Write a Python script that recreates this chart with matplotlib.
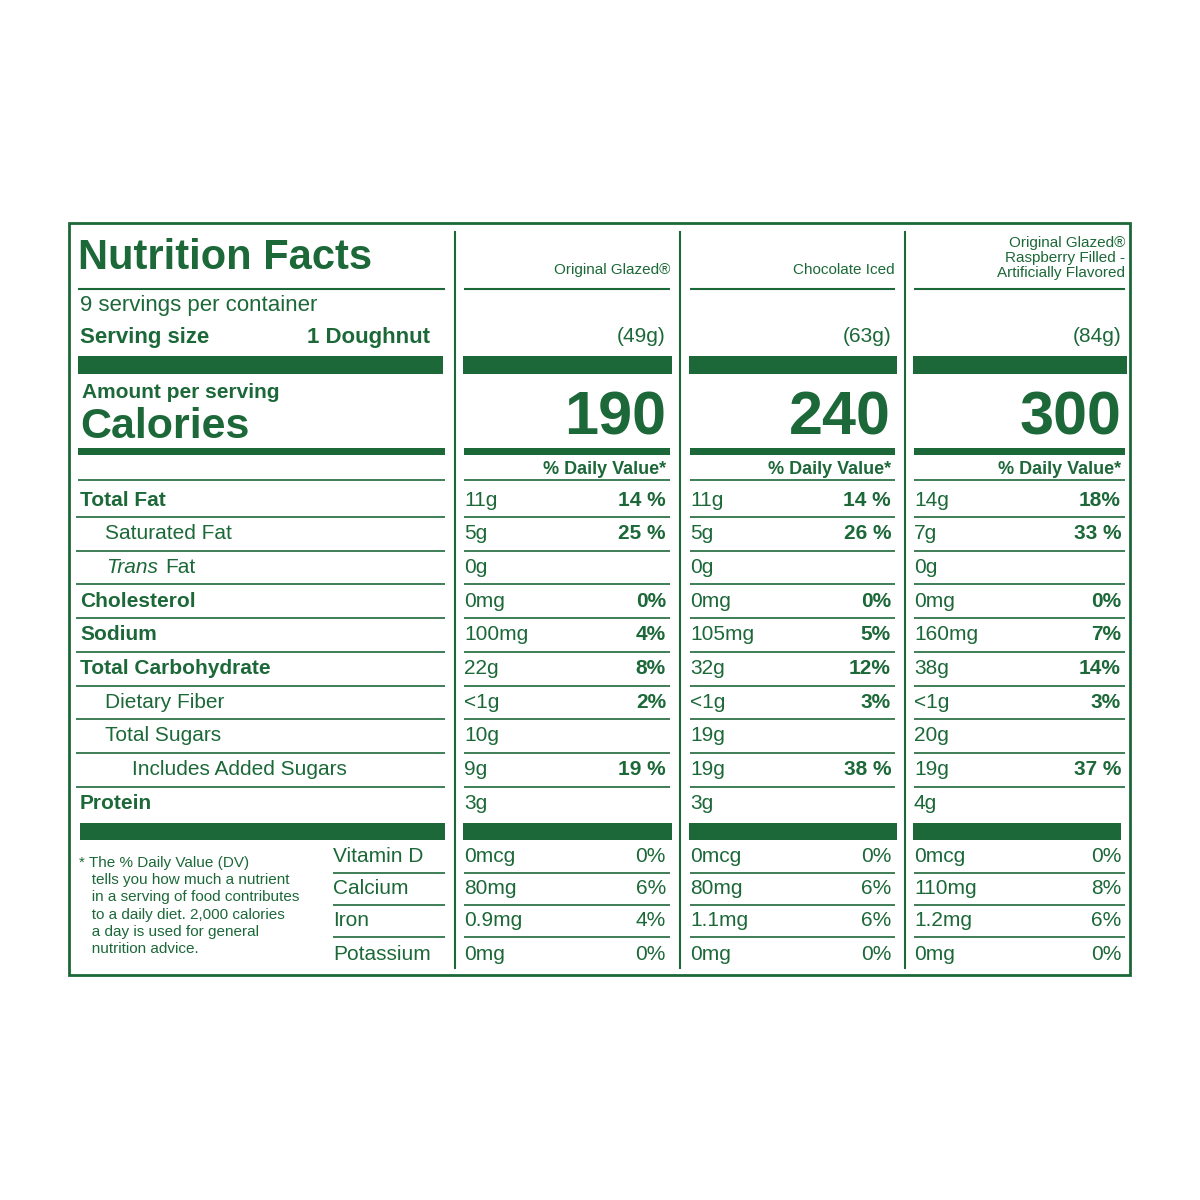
import matplotlib
matplotlib.use("Agg")
import matplotlib.pyplot as plt
from matplotlib.patches import Rectangle

G = "#1c6838"
products = ["Original Glazed\u00ae", "Chocolate Iced", "Original Glazed\u00ae\nRaspberry Filled -\nArtificially Flavored"]
weights = ["(49g)", "(63g)", "(84g)"]
calories = ["190", "240", "300"]
nutrients = ["Total Fat", "Saturated Fat", "Trans Fat", "Cholesterol", "Sodium", "Total Carbohydrate",
             "Dietary Fiber", "Total Sugars", "Includes Added Sugars", "Protein"]
indent = [0, 1, 1, 0, 0, 0, 1, 1, 2, 0]
amounts = [["11g", "5g", "0g", "0mg", "100mg", "22g", "<1g", "10g", "9g", "3g"],
           ["11g", "5g", "0g", "0mg", "105mg", "32g", "<1g", "19g", "19g", "3g"],
           ["14g", "7g", "0g", "0mg", "160mg", "38g", "<1g", "20g", "19g", "4g"]]
dvs = [["14 %", "25 %", "", "0%", "4%", "8%", "2%", "", "19 %", ""],
       ["14 %", "26 %", "", "0%", "5%", "12%", "3%", "", "38 %", ""],
       ["18%", "33 %", "", "0%", "7%", "14%", "3%", "", "37 %", ""]]
vitamins = ["Vitamin D", "Calcium", "Iron", "Potassium"]
vit_amt = [["0mcg", "80mg", "0.9mg", "0mg"], ["0mcg", "80mg", "1.1mg", "0mg"], ["0mcg", "110mg", "1.2mg", "0mg"]]
vit_dv = [["0%", "6%", "4%", "0%"], ["0%", "6%", "6%", "0%"], ["0%", "8%", "6%", "0%"]]
servings = "9 servings per container"
footnote = ("* The % Daily Value (DV)\n   tells you how much a nutrient\n   in a serving of food contributes\n"
            "   to a daily diet. 2,000 calories\n   a day is used for general\n   nutrition advice.")

fig = plt.figure(figsize=(12, 12), dpi=100)
ax = fig.add_axes([0, 0, 1, 1])
ax.set_xlim(0, 1200); ax.set_ylim(1200, 0); ax.axis("off")
L = ["Liberation Sans", "DejaVu Sans"]

def t(x, y, s, size, ha="left", va="center", weight="normal", fam=L, style="normal", ls=1.0):
    ax.text(x, y, s, fontsize=size, ha=ha, va=va, color=G, fontweight=weight, family=fam,
            fontstyle=style, linespacing=ls)

def hl(x0, x1, y, lw=1.2):
    ax.plot([x0, x1], [y, y], color=G, lw=lw, solid_capstyle="butt")

def bar(x0, x1, y0, y1):
    ax.add_patch(Rectangle((x0, y0), x1 - x0, y1 - y0, color=G, lw=0))

ax.add_patch(Rectangle((69, 223), 1061, 752, fill=False, ec=G, lw=2))
for x in [455, 680, 905]:
    ax.plot([x, x], [232, 968], color=G, lw=1.5)

# left panel
t(78, 258, "Nutrition Facts", 30, weight="bold")
hl(78, 445, 289, 1.5)
t(80, 306, servings, 16)
t(80, 337, "Serving size", 16, weight="bold")
t(430, 337, "1 Doughnut", 16, ha="right", weight="bold")
bar(78, 443, 356, 374)
t(82, 393, "Amount per serving", 15, weight="bold")
t(80, 427, "Calories", 31, weight="bold")
bar(78, 445, 448, 455)
hl(78, 445, 480)

cols = [(464, 670), (690, 895), (914, 1125)]
for i, (x0, x1) in enumerate(cols):
    if i < 2:
        t(x1, 270, products[i], 11, ha="right")
    else:
        t(x1, 258, products[i], 11, ha="right", ls=1.05)
    hl(x0, x1, 289, 1.5)
    t(x1 - 4, 337, weights[i], 15, ha="right")
    bar(x0 - 1, x1 + 2, 356, 374)
    t(x1 - 4, 419, calories[i], 44, ha="right", weight="bold")
    bar(x0, x1, 448, 455)
    t(x1 - 4, 469, "% Daily Value*", 13, ha="right", weight="bold")
    hl(x0, x1, 480)

row_y = [500 + 33.7 * k for k in range(len(nutrients))]
for k, name in enumerate(nutrients):
    y = row_y[k]
    if name == "Trans Fat":
        ax.text(106, y, "Trans", fontsize=15, color=G, family=L, fontstyle="italic", va="center")
        ax.text(165, y, "Fat", fontsize=15, color=G, family=L, va="center")
    else:
        t(80 + 25 * indent[k] + (2 if indent[k] == 2 else 0), y, name, 15,
          weight="bold" if indent[k] == 0 else "normal")
    if k < len(nutrients) - 1:
        hl(76, 445, y + 17)
    for i, (x0, x1) in enumerate(cols):
        t(x0, y, amounts[i][k], 15)
        if dvs[i][k]:
            t(x1 - 4, y, dvs[i][k], 15, ha="right", weight="bold")
        if k < len(nutrients) - 1:
            hl(x0, x1, y + 17)

bar(80, 445, 823, 840)
for i, (x0, x1) in enumerate(cols):
    bar(x0 - 1, x1 + 2 if i < 2 else x1 - 4, 823, 840)

t(79, 906, footnote, 11, ls=1.3)
vy = [857, 889, 921, 954]
for k, v in enumerate(vitamins):
    t(333, vy[k], v, 15)
    if k < 3:
        hl(333, 445, vy[k] + 16)
    for i, (x0, x1) in enumerate(cols):
        t(x0, vy[k], vit_amt[i][k], 15)
        t(x1 - 4, vy[k], vit_dv[i][k], 15, ha="right")
        if k < 3:
            hl(x0, x1, vy[k] + 16)

fig.savefig("out.png", dpi=100, facecolor="white")
